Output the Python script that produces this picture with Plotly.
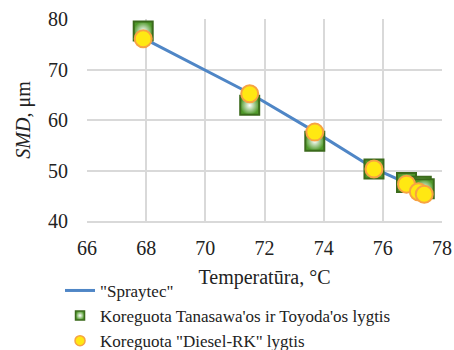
import plotly.graph_objects as go

# Data
spraytec_x = [67.9, 71.5, 73.7, 75.7, 76.8, 77.2, 77.4]
spraytec_y = [76.2, 65.3, 57.7, 50.4, 47.5, 46.0, 45.4]

tanasawa_x = [67.9, 71.5, 73.7, 75.7, 76.8, 77.3, 77.4]
tanasawa_y = [77.6, 62.9, 55.8, 50.3, 47.6, 46.9, 46.4]

dieselrk_x = [67.9, 71.5, 73.7, 75.7, 76.8, 77.2, 77.4]
dieselrk_y = [76.1, 65.2, 57.6, 50.3, 47.3, 45.8, 45.3]

x_ticks = [66, 68, 70, 72, 74, 76, 78]
y_ticks = [40, 50, 60, 70, 80]

names = ['"Spraytec"', "Koreguota Tanasawa'os ir Toyoda'os lygtis", 'Koreguota "Diesel-RK" lygtis']

FONT = "Times New Roman, Liberation Serif, serif"
LINE_C = "#4f86c6"
SQ_FILL = "#4f9a2a"
SQ_EDGE = "#3b6a1c"
CI_FILL = "#ffe812"
CI_EDGE = "#f7a343"

fig = go.Figure()
fig.add_trace(go.Scatter(x=spraytec_x, y=spraytec_y, mode="lines", name=names[0],
                         line=dict(color=LINE_C, width=3), showlegend=True))
fig.add_trace(go.Scatter(x=tanasawa_x, y=tanasawa_y, mode="markers", name=names[1],
                         marker=dict(symbol="square", size=19, color=SQ_FILL,
                                     gradient=dict(type="radial", color="white"),
                                     line=dict(color=SQ_EDGE, width=2)), showlegend=False))
fig.add_trace(go.Scatter(x=dieselrk_x, y=dieselrk_y, mode="markers", name=names[2],
                         marker=dict(symbol="circle", size=17, color=CI_FILL,
                                     line=dict(color=CI_EDGE, width=2)), showlegend=False))
# legend entries with smaller symbols
fig.add_trace(go.Scatter(x=[None], y=[None], mode="markers", name=names[1],
                         marker=dict(symbol="square", size=9, color=SQ_FILL,
                                     gradient=dict(type="radial", color="white"),
                                     line=dict(color=SQ_EDGE, width=1.5))))
fig.add_trace(go.Scatter(x=[None], y=[None], mode="markers", name=names[2],
                         marker=dict(symbol="circle", size=10, color=CI_FILL,
                                     line=dict(color=CI_EDGE, width=1.5))))

fig.update_layout(
    width=454, height=350,
    margin=dict(l=87, r=12, t=19, b=129, autoexpand=False),
    paper_bgcolor="white", plot_bgcolor="white",
    font=dict(family=FONT, size=20, color="#222222"),
    showlegend=True,
    legend=dict(xref="paper", yref="paper", x=-0.076, y=-0.257,
                xanchor="left", yanchor="top",
                font=dict(family=FONT, size=17, color="#222222"),
                bgcolor="rgba(0,0,0,0)", tracegroupgap=0, itemwidth=30,
                traceorder="normal"),
)
fig.update_xaxes(range=[66, 78], tickvals=x_ticks, ticktext=[str(v) for v in x_ticks],
                 tickfont=dict(family=FONT, size=20),
                 showgrid=True, gridcolor="#d9d9d9", gridwidth=1.5,
                 showline=True, linecolor="#d9d9d9", linewidth=1.5,
                 zeroline=False, ticks="", ticklabelstandoff=8, automargin=False,
                 title=dict(text="Temperatūra, °C", font=dict(family=FONT, size=20), standoff=12))
fig.update_yaxes(range=[40, 80], tickvals=y_ticks, ticktext=[str(v) for v in y_ticks],
                 tickfont=dict(family=FONT, size=20),
                 showgrid=True, gridcolor="#d9d9d9", gridwidth=1.5,
                 showline=False, zeroline=False, ticks="", ticklabelstandoff=18, automargin=False,
                 title=dict(text="<i>SMD</i>, μm", font=dict(family=FONT, size=20), standoff=12))

fig.write_html("out.html")
